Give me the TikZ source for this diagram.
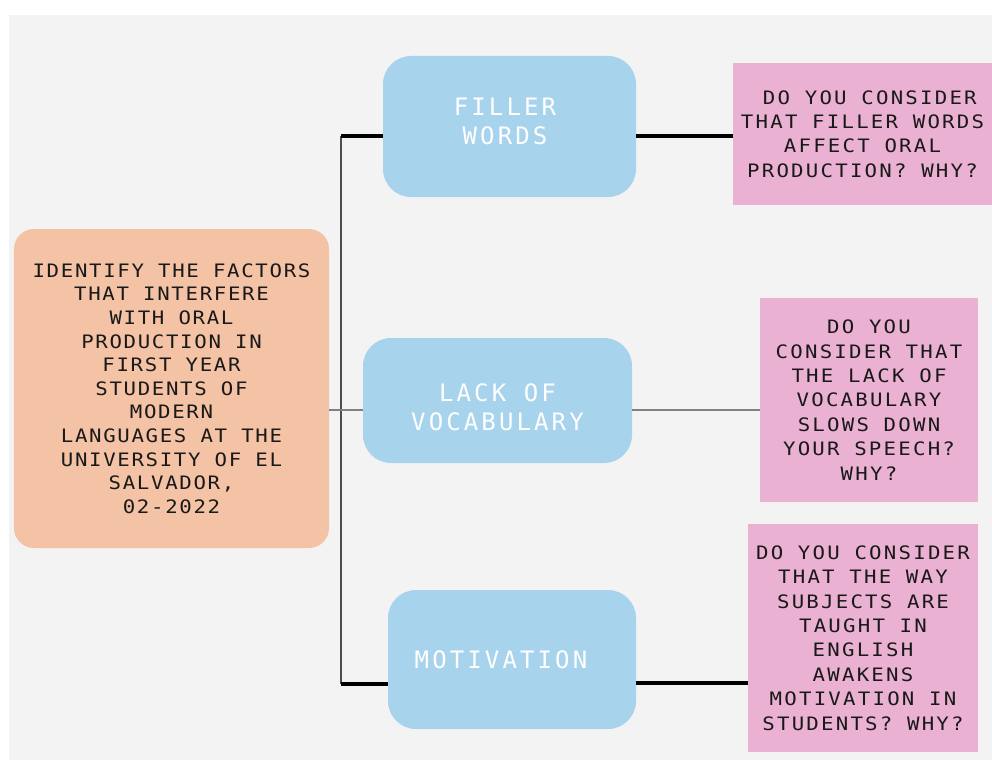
\documentclass[tikz,border=0pt]{standalone}
\usepackage{fontspec}
\newfontfamily\goalfont[FakeStretch=1.12,LetterSpace=9]{DejaVu Sans Mono}
\newfontfamily\questfont[FakeStretch=1.12,LetterSpace=12]{DejaVu Sans Mono}
\newfontfamily\factfont[LetterSpace=13]{DejaVu Sans Mono}
\definecolor{bgc}{RGB}{243,243,243}
\definecolor{orangec}{RGB}{244,194,164}
\definecolor{bluec}{RGB}{167,211,236}
\definecolor{pinkc}{RGB}{235,177,210}
\definecolor{inkc}{RGB}{25,25,25}
\tikzset{
  goalbox/.style={fill=orangec, rounded corners=20pt, inner sep=0pt, align=center, text=inkc,
    font={\goalfont\fontsize{18.5}{23.6}\selectfont}},
  factorbox/.style={fill=bluec, rounded corners=28pt, inner sep=0pt},
  factortext/.style={inner sep=0pt, align=center, text=white,
    font={\factfont\fontsize{24}{29}\selectfont}},
  questionbox/.style={fill=pinkc, inner sep=0pt, align=center, text=inkc,
    font={\questfont\fontsize{18.5}{24.4}\selectfont}},
  trunkline/.style={draw=black!70, line width=1.3pt},
  boldline/.style={draw=black, line width=3.2pt},
  greyline/.style={draw=black!50, line width=1.3pt},
}
\begin{document}
\begin{tikzpicture}[x=1pt,y=-1pt]
\useasboundingbox (0,0) rectangle (992,760);
\fill[white] (0,0) rectangle (992,760);
\fill[bgc] (9,15) rectangle (992,760);

% main box
\node[goalbox, minimum width=315pt, minimum height=319pt] (goal) at (171.5,388.5)
  {IDENTIFY THE FACTORS\\THAT INTERFERE\\WITH ORAL\\PRODUCTION IN\\FIRST YEAR\\STUDENTS OF\\MODERN\\LANGUAGES AT THE\\UNIVERSITY OF EL\\SALVADOR,\\02-2022};

% factor boxes
\node[factorbox, minimum width=253pt, minimum height=141pt] (filler) at (509.5,126.5) {};
\node[factortext] (fillerT) at (505,121) {FILLER\\WORDS};
\node[factorbox, minimum width=269pt, minimum height=125pt] (lack) at (497.5,400.5) {};
\node[factortext] (lackT) at (497.5,407) {LACK OF\\VOCABULARY};
\node[factorbox, minimum width=248pt, minimum height=139pt] (motiv) at (512,659.5) {};
\node[factortext] (motivT) at (501,659.5) {MOTIVATION};

% question boxes
\node[questionbox, minimum width=259pt, minimum height=142pt] (q1) at (862.5,134)
  {\ DO YOU CONSIDER\\THAT FILLER WORDS\\AFFECT ORAL\\PRODUCTION? WHY?};
\node[questionbox, minimum width=218pt, minimum height=204pt] (q2) at (869,400)
  {DO YOU\\CONSIDER THAT\\THE LACK OF\\VOCABULARY\\SLOWS DOWN\\YOUR SPEECH?\\WHY?};
\node[questionbox, minimum width=230pt, minimum height=228pt] (q3) at (863,638)
  {DO YOU CONSIDER\\THAT THE WAY\\SUBJECTS ARE\\TAUGHT IN\\ENGLISH\\AWAKENS\\MOTIVATION IN\\STUDENTS? WHY?};

% connectors
\coordinate (jt) at (341,136);
\coordinate (jb) at (341,684);
\coordinate (jm) at (341,410);
\draw[trunkline] (jt) -- (jb);
\draw[boldline] (jt) -- (jt -| filler.west);
\draw[boldline] (jb) -- (jb -| motiv.west);
\draw[greyline] (goal.east |- jm) -- (lack.west |- jm);
\draw[boldline] (filler.east |- jt) -- (q1.west |- jt);
\draw[greyline] (lack.east |- jm) -- (q2.west |- jm);
\draw[boldline] ([yshift=1pt]motiv.east |- jb) -- ([yshift=1pt]q3.west |- jb);
\end{tikzpicture}
\end{document}
